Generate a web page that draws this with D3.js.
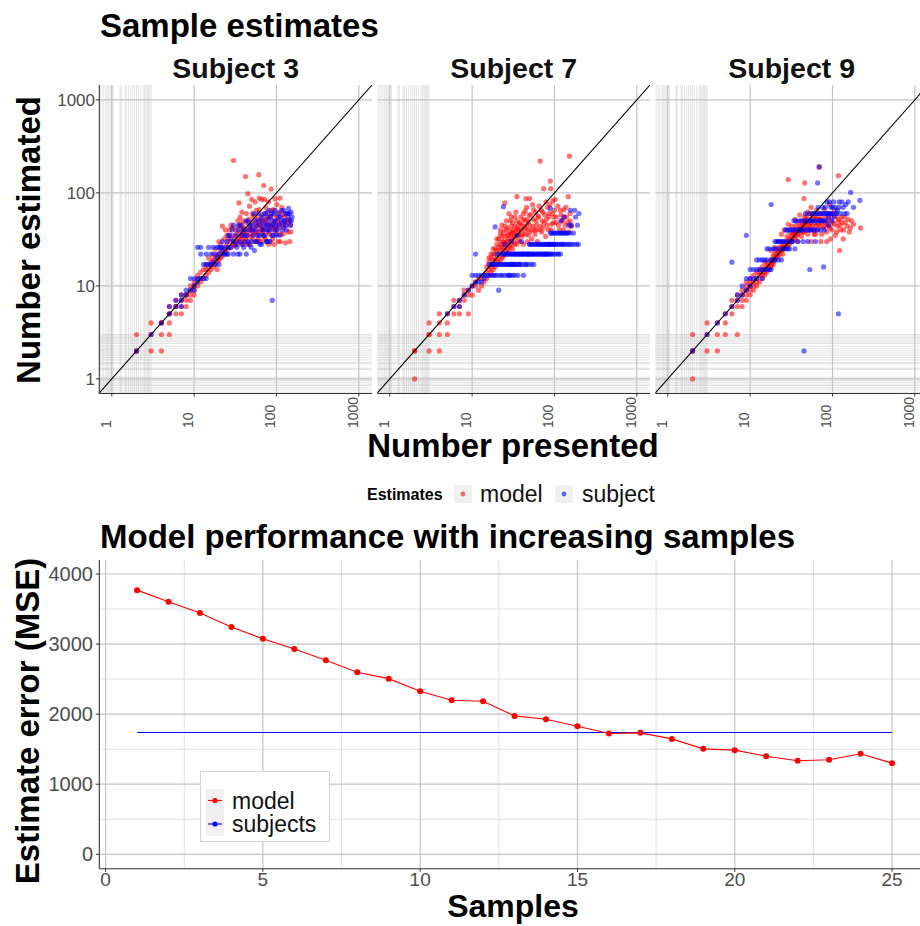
<!DOCTYPE html>
<html><head><meta charset="utf-8">
<script src="https://cdn.jsdelivr.net/npm/d3@7/dist/d3.min.js"></script>
<style>body{margin:0;background:#fff}svg{display:block;font-family:"Liberation Sans",Arial,sans-serif}</style>
</head><body><svg id="c" width="920" height="926"></svg>
<script>
// ---------------- data ----------------
const subjects = ["Subject 3", "Subject 7", "Subject 9"];
const seriesNames = ["model", "subject"];
const logTicks = [1, 10, 100, 1000];
const minorVals = [0.72,0.76,0.8,0.85,0.88,0.92,0.96,1.0,1.04,1.26,1.3,1.45,1.5,1.6,1.7,1.8,1.9,2.0,2.1,2.25,2.4,2.5,2.6,2.7,2.8,2.9,3.0];

const s3Model = [[2,2],[2,2],[2,3],[3,2],[3,3],[3,4],[4,2],[4,3],[4,4],[4,4],[5,3],[5,4],[5,5],[5,5],[5,6],[6,5],[6,6],[6,6],[6,7],[7,5],[7,6],[7,7],[7,8],[8,6],[8,7],[8,8],[8,8],[9,7],[9,8],[9,9],[9,10],[10,8],[10,9],[10,10],[10,11],[11,10],[11,12],[11,13],[12,11],[12,12],[12,14],[13,12],[13,15],[14,13],[14,15],[14,17],[15,14],[15,16],[16,15],[16,17],[16,18],[17,16],[17,19],[18,17],[18,20],[19,18],[19,21],[20,19],[20,22],[21,20],[21,24],[22,21],[22,44],[23,25],[24,23],[24,40],[25,28],[26,25],[26,32],[27,30],[28,26],[28,45],[29,35],[30,28],[30,223],[31,33],[32,30],[32,40],[33,36],[34,28],[34,50],[35,32],[35,78],[36,38],[37,30],[37,45],[38,34],[38,62],[39,28],[40,42],[40,36],[41,30],[42,150],[42,48],[43,34],[44,40],[45,98],[45,30],[46,52],[47,36],[48,44],[48,28],[50,40],[50,85],[51,32],[52,55],[53,42],[54,36],[55,30],[56,48],[57,65],[58,38],[60,45],[60,33],[61,157],[62,88],[63,50],[64,40],[65,30],[66,58],[67,42],[68,36],[70,120],[70,48],[72,85],[73,32],[75,52],[76,40],[78,62],[80,28],[80,46],[82,36],[84,55],[86,110],[88,42],[90,32],[92,66],[94,48],[96,86],[100,40],[102,54],[105,30],[108,46],[110,88],[112,36],[118,58],[122,42],[128,29],[132,50],[140,48],[145,30],[150,38],
[25,35],[27,40],[29,42],[31,27],[33,30],[34,44],[36,33],[36,55],[38,42],[39,50],[41,38],[42,32],[43,60],[44,28],[46,40],[47,72],[49,34],[50,48],[51,60],[53,38],[55,56],[55,80],[57,44],[58,30],[59,52],[61,38],[62,66],[63,30],[65,45],[66,85],[68,55],[69,40],[71,34],[72,50],[74,70],[76,30],[77,45],[79,38],[80,80],[82,56],[84,30],[85,44],[87,65],[89,50],[91,40],[93,28],[95,58],[97,44],[99,36],[101,75],[104,50],[106,42],[109,62],[111,30],[114,48],[116,70],[120,36],[124,55],[128,45],[134,60],[138,38],[143,52],[148,45],[20,30],[18,25],[23,32],[21,28],[19,15],[17,22],[15,20]];
const s3Subject = [[2,2],[3,3],[4,4],[5,5],[5,6],[6,6],[6,7],[7,6],[7,7],[7,8],[8,8],[8,9],[9,9],[9,12],[10,9],[10,10],[10,12],[11,11],[11,12],[11,26],[12,12],[12,22],[12,26],[13,12],[13,17],[14,12],[14,17],[14,22],[15,17],[15,26],[16,17],[16,22],[17,18],[17,26],[18,17],[18,22],[19,20],[19,26],[20,22],[20,17],[21,26],[22,24],[22,30],[23,22],[24,26],[25,30],[26,22],[27,35],[28,26],[29,40],[30,22],[30,30],[32,35],[33,26],[34,40],[35,30],[36,22],[37,45],[38,35],[40,26],[40,30],[42,40],[43,22],[44,35],[45,50],[46,28],[48,40],[50,30],[50,45],[52,35],[54,24],[55,50],[56,40],[58,30],[60,60],[62,35],[64,45],[66,28],[68,50],[70,40],[72,35],[74,60],[76,45],[78,30],[80,50],[82,40],[85,55],[88,35],[89,7],[90,45],[92,60],[95,40],[98,50],[100,35],[105,60],[108,45],[112,55],[118,40],[122,65],[126,50],[130,45],[136,60],[140,68],[146,50],[150,62],[155,55],
[26,35],[28,32],[30,45],[32,28],[34,22],[35,45],[38,28],[39,40],[41,35],[43,50],[45,30],[47,45],[49,26],[51,40],[53,60],[56,30],[57,45],[59,35],[61,50],[63,28],[65,55],[67,40],[69,35],[71,60],[73,45],[75,30],[77,55],[79,40],[81,65],[83,30],[86,45],[87,60],[91,35],[93,50],[96,65],[99,45],[102,40],[106,55],[110,35],[114,50],[116,65],[120,45],[124,50],[128,60],[132,40],[138,55],[144,60],[148,45],[152,50],[20,26],[22,26],[24,22],[25,22],[26,26]];
const s7Model = [[2,1],[2,2],[2,2],[3,2],[4,2],[3,3],[3,3],[4,3],[5,3],[3,4],[4,4],[5,4],[4,5],[5,5],[6,5],[7,5],[9,5],[6,6],[6,7],[7,6],[7,7],[8,7],[8,8],[8,9],[9,8],[9,9],[10,8],[10,10],[11,10],[11,11],[12,9],[12,12],[13,10],[13,12],[14,11],[14,13],[15,12],[15,14],[15,16],[16,13],[16,15],[16,18],[17,14],[17,16],[17,20],[18,15],[18,17],[18,22],[19,16],[19,19],[19,25],[20,17],[20,20],[20,28],[21,18],[21,22],[21,32],[22,19],[22,24],[22,36],[23,20],[23,26],[23,45],[24,21],[24,28],[24,30],[25,22],[25,34],[25,78],[26,24],[26,40],[27,25],[27,30],[28,23],[28,27],[28,36],[29,26],[29,50],[30,28],[30,32],[30,44],[31,25],[32,30],[32,38],[33,34],[33,55],[35,28],[35,91],[35,42],[36,31],[37,36],[38,48],[38,30],[40,34],[40,40],[42,28],[42,52],[44,36],[44,64],[45,87],[46,42],[47,30],[48,48],[50,87],[50,38],[52,58],[53,32],[55,44],[56,66],[58,36],[60,50],[60,40],[62,30],[64,56],[65,72],[67,220],[68,44],[70,38],[72,62],[74,111],[75,48],[78,34],[80,52],[82,70],[84,40],[86,60],[89,134],[90,111],[92,46],[95,82],[98,55],[100,65],[105,48],[110,72],[115,40],[120,58],[125,50],[130,66],[135,45],[140,55],[147,91],[150,38],[152,248],[155,50],[160,44],
[16,20],[17,22],[18,19],[18,25],[19,22],[20,24],[20,32],[21,26],[22,28],[22,40],[23,30],[23,34],[24,25],[24,38],[25,28],[25,44],[26,30],[26,50],[27,35],[27,42],[28,32],[28,60],[29,38],[29,30],[30,36],[30,55],[31,40],[31,48],[32,34],[33,44],[33,28],[34,38],[34,62],[35,50],[36,40],[36,35],[37,46],[38,40],[39,55],[40,45],[41,36],[42,60],[43,44],[44,50],[45,40],[46,70],[47,52],[48,35],[49,58],[50,45],[52,40],[54,75],[55,52],[57,40],[59,62],[61,45],[63,55],[66,40],[69,65],[71,50],[73,42],[76,58],[79,80],[81,45],[85,55],[88,75],[91,40],[94,60],[97,48],[102,85],[106,55],[112,45],[118,65],[122,50],[128,40],[132,55],[138,70],[145,48],[155,60],[158,44]];
const s7Subject = [[5,5],[6,6],[7,6],[7,7],[8,8],[9,9],[10,10],[10,13],[11,11],[11,13],[11,22],[12,11],[12,13],[13,11],[13,13],[14,12],[14,13],[15,13],[16,13],[16,17],[17,17],[18,13],[18,17],[19,17],[19,43],[20,17],[20,22],[21,9],[21,17],[22,17],[22,22],[23,13],[24,17],[24,22],[24,71],[25,13],[25,22],[26,17],[27,22],[28,13],[28,17],[29,22],[30,17],[30,22],[31,13],[32,17],[33,22],[34,17],[35,22],[36,13],[37,17],[38,22],[40,17],[40,22],[42,13],[42,22],[44,17],[45,22],[48,17],[48,22],[50,22],[50,28],[52,17],[55,22],[55,28],[58,22],[60,28],[62,22],[65,28],[68,22],[70,28],[72,22],[75,28],[78,22],[80,28],[82,22],[85,28],[88,22],[89,37],[89,68],[90,28],[92,37],[95,22],[98,28],[100,37],[105,28],[108,22],[110,37],[115,28],[118,22],[120,37],[125,28],[130,37],[135,28],[140,37],[145,28],[150,45],[156,65],[160,28],[170,37],[176,65],[185,28],[190,45],[198,60],
[26,22],[28,22],[31,22],[32,22],[34,22],[36,22],[37,22],[39,22],[41,22],[43,22],[46,22],[47,22],[49,22],[52,22],[53,22],[56,22],[60,22],[64,22],[66,22],[70,22],[74,22],[76,22],[80,22],[85,22],[90,22],[100,22],[112,22],[50,28],[53,28],[58,28],[63,28],[67,28],[73,28],[77,28],[83,28],[87,28],[93,28],[96,28],[102,28],[110,28],[120,28],[130,28],[150,28],[170,28],[195,28],[17,13],[19,13],[20,13],[22,13],[27,13],[29,13],[33,13],[18,17],[23,17],[25,17],[27,17],[29,17],[31,17],[33,17],[36,17],[38,17],[45,17],[56,17],[97,37],[105,37],[115,37],[125,37],[135,37],[145,37],[155,37],[120,50],[130,55],[160,45],[180,55],[30,30],[35,35],[40,30],[25,28]];
const s9Model = [[2,1],[2,2],[2,2],[2,3],[3,2],[3,3],[3,4],[4,2],[4,3],[4,4],[5,3],[5,4],[5,5],[6,5],[6,6],[7,3],[6,7],[7,6],[7,7],[7,8],[8,6],[8,7],[8,8],[8,9],[9,7],[9,8],[9,9],[9,10],[9,11],[10,8],[10,9],[10,10],[10,11],[10,12],[11,9],[11,11],[11,13],[12,10],[12,12],[12,14],[13,11],[13,13],[13,15],[14,12],[14,14],[14,16],[15,13],[15,15],[15,18],[16,14],[16,17],[17,15],[17,18],[18,16],[18,19],[18,24],[19,17],[19,21],[20,19],[20,22],[20,26],[21,20],[21,24],[22,21],[22,30],[23,22],[23,26],[24,24],[24,36],[25,22],[25,28],[26,26],[26,40],[27,30],[28,26],[28,34],[29,139],[29,46],[30,28],[30,38],[31,32],[32,30],[32,44],[33,36],[34,40],[35,32],[35,52],[36,44],[37,36],[38,48],[38,30],[40,40],[40,58],[42,34],[42,50],[44,44],[45,87],[45,38],[46,128],[46,55],[48,40],[48,48],[50,62],[50,36],[52,46],[54,40],[55,70],[56,52],[58,44],[60,56],[60,36],[62,48],[64,65],[66,40],[68,52],[69,190],[70,44],[72,60],[74,36],[75,50],[78,42],[80,66],[82,48],[85,38],[88,56],[90,44],[92,75],[95,50],[98,40],[100,60],[105,46],[108,35],[110,56],[115,44],[118,153],[120,52],[122,24],[125,40],[130,48],[135,32],[140,55],[150,44],[160,38],[170,50],[219,42],
[11,10],[12,11],[13,14],[14,13],[15,14],[16,16],[17,16],[18,17],[19,18],[20,20],[21,22],[22,23],[23,24],[24,26],[25,25],[26,28],[27,26],[28,30],[29,28],[30,32],[31,30],[32,35],[33,32],[34,36],[35,38],[36,34],[37,40],[38,36],[39,42],[40,38],[41,44],[42,40],[43,46],[44,38],[45,50],[46,44],[47,48],[48,56],[49,42],[50,52],[52,60],[53,44],[55,48],[57,58],[59,40],[61,52],[63,44],[65,56],[67,46],[70,52],[73,48],[76,56],[79,44],[83,52],[86,46],[89,60],[93,42],[97,55],[102,48],[107,65],[112,38],[117,50],[124,45],[129,55],[136,40],[142,48],[155,52],[165,42],[180,46],[55,30],[62,36],[72,30],[85,30],[95,32]];
const s9Subject = [[2,2],[3,3],[4,4],[5,5],[6,6],[6,18],[7,7],[7,8],[8,8],[8,10],[9,9],[9,12],[9,35],[10,10],[10,12],[10,15],[11,12],[11,15],[12,12],[12,15],[12,19],[13,15],[13,19],[14,12],[14,15],[14,19],[15,15],[15,19],[16,19],[16,25],[17,15],[17,25],[18,19],[18,75],[19,25],[20,19],[20,25],[21,30],[22,25],[23,30],[24,19],[25,30],[26,25],[27,40],[28,30],[29,25],[30,40],[32,30],[33,40],[35,25],[36,50],[38,30],[40,40],[42,50],[44,30],[45,2],[45,40],[47,60],[48,50],[50,30],[52,40],[53,15],[55,50],[57,60],[58,40],[60,50],[62,30],[64,60],[66,128],[66,40],[68,50],[69,190],[70,60],[72,40],[75,50],[78,16],[78,60],[80,40],[82,70],[85,50],[88,60],[90,45],[92,80],[95,60],[98,50],[100,70],[105,55],[110,60],[115,65],[118,5],[120,80],[125,60],[135,70],[145,75],[150,60],[166,101],[180,70],[215,83],
[20,30],[22,30],[24,30],[26,30],[28,40],[30,30],[31,40],[33,30],[34,50],[35,40],[37,40],[39,50],[41,40],[43,40],[46,50],[49,40],[51,50],[53,60],[54,40],[56,50],[59,60],[61,40],[63,50],[65,60],[67,70],[71,50],[73,60],[76,70],[79,50],[81,60],[84,60],[86,80],[89,55],[93,60],[96,70],[99,60],[103,80],[108,70],[112,60],[120,70],[130,80],[140,60],[155,80],[16,15],[18,15],[19,19],[22,19],[25,25],[27,25],[30,25]];

const samples = [1,2,3,4,5,6,7,8,9,10,11,12,13,14,15,16,17,18,19,20,21,22,23,24,25];
const modelMSE = [3770,3604,3443,3243,3077,2930,2768,2597,2507,2326,2198,2184,1975,1928,1828,1724,1733,1647,1505,1486,1400,1334,1349,1434,1301];
const subjectsSamples = [1, 25];
const subjectsMSE = [1738, 1738];
const xTicks2 = [0, 5, 10, 15, 20, 25];
const yTicks2 = [0, 1000, 2000, 3000, 4000];
const xMinor2 = [2.5, 7.5, 12.5, 17.5, 22.5];
const yMinor2 = [500, 1500, 2500, 3500];

// ---------------- drawing ----------------
const svg = d3.select("#c");
const RED = "#FF0000", BLUE = "#0000FF", TXT = "#4d4d4d";
const facetData = [[s3Model, s3Subject], [s7Model, s7Subject], [s9Model, s9Subject]];
const panelsX = [[99.3, 372], [377.3, 650], [655.3, 928]];
const pTop = 85, pBot = 393;
const logDom = [0.705, 1445];

svg.append("text").attr("x", 100).attr("y", 37).attr("font-size", 33).attr("font-weight", "bold").text("Sample estimates");

facetData.forEach((fd, i) => {
  const x = d3.scaleLog().domain(logDom).range(panelsX[i]);
  const y = d3.scaleLog().domain(logDom).range([pBot, pTop]);
  const g = svg.append("g");
  const cid = "clip" + i;
  svg.append("clipPath").attr("id", cid).append("rect")
    .attr("x", panelsX[i][0]).attr("y", pTop).attr("width", panelsX[i][1] - panelsX[i][0]).attr("height", pBot - pTop);
  const pg = g.append("g").attr("clip-path", `url(#${cid})`);
  pg.selectAll(".mv").data(minorVals).join("line")
    .attr("x1", d => x(d)).attr("x2", d => x(d)).attr("y1", pTop).attr("y2", pBot)
    .attr("stroke", "#b8b8b8").attr("stroke-opacity", 0.5).attr("stroke-width", 0.8);
  pg.selectAll(".mh").data(minorVals).join("line")
    .attr("y1", d => y(d)).attr("y2", d => y(d)).attr("x1", panelsX[i][0]).attr("x2", panelsX[i][1])
    .attr("stroke", "#b8b8b8").attr("stroke-opacity", 0.5).attr("stroke-width", 0.8);
  pg.selectAll(".Mv").data(logTicks).join("line")
    .attr("x1", d => x(d)).attr("x2", d => x(d)).attr("y1", pTop).attr("y2", pBot)
    .attr("stroke", "#c4c4c4").attr("stroke-width", 1.2);
  pg.selectAll(".Mh").data(logTicks).join("line")
    .attr("y1", d => y(d)).attr("y2", d => y(d)).attr("x1", panelsX[i][0]).attr("x2", panelsX[i][1])
    .attr("stroke", "#c4c4c4").attr("stroke-width", 1.2);
  fd.forEach((pts, si) => {
    pg.selectAll(".p" + si).data(pts).join("circle")
      .attr("cx", d => x(d[0])).attr("cy", d => y(d[1])).attr("r", 2.6)
      .attr("fill", si === 0 ? RED : BLUE).attr("fill-opacity", 0.55);
  });
  pg.append("line").attr("x1", x(logDom[0])).attr("y1", y(logDom[0])).attr("x2", x(logDom[1])).attr("y2", y(logDom[1]))
    .attr("stroke", "#000").attr("stroke-width", 1.1);
  g.append("line").attr("x1", panelsX[i][0]).attr("x2", panelsX[i][1]).attr("y1", pBot + 0.5).attr("y2", pBot + 0.5)
    .attr("stroke", "#333").attr("stroke-width", 1.1);
  g.selectAll(".bt").data(logTicks).join("line")
    .attr("x1", d => x(d)).attr("x2", d => x(d)).attr("y1", pBot).attr("y2", pBot + 3.5).attr("stroke", "#333");
  g.selectAll(".bl").data(logTicks).join("text")
    .attr("transform", d => `translate(${x(d) - 1},428) rotate(-90)`)
    .attr("font-size", 14).attr("fill", TXT).text(d => d);
  svg.append("text").attr("x", (panelsX[i][0] + panelsX[i][1]) / 2).attr("y", 78).attr("text-anchor", "middle")
    .attr("font-size", 28.5).attr("font-weight", "bold").attr("fill", "#111").text(subjects[i]);
  if (i === 0) {
    g.append("line").attr("x1", panelsX[0][0]).attr("x2", panelsX[0][0]).attr("y1", pTop).attr("y2", pBot + 1)
      .attr("stroke", "#333").attr("stroke-width", 1.1);
    g.selectAll(".lt").data(logTicks).join("line")
      .attr("x1", panelsX[0][0] - 3.5).attr("x2", panelsX[0][0]).attr("y1", d => y(d)).attr("y2", d => y(d)).attr("stroke", "#333");
    g.selectAll(".ll").data(logTicks).join("text")
      .attr("x", 95).attr("y", d => y(d)).attr("dy", "0.35em").attr("text-anchor", "end")
      .attr("font-size", 17).attr("fill", TXT).text(d => d);
  }
});

svg.append("text").attr("transform", "translate(40,240) rotate(-90)").attr("text-anchor", "middle")
  .attr("font-size", 33).attr("font-weight", "bold").text("Number estimated");
svg.append("text").attr("x", 513).attr("y", 457).attr("text-anchor", "middle")
  .attr("font-size", 33).attr("font-weight", "bold").text("Number presented");

svg.append("text").attr("x", 367).attr("y", 500).attr("font-size", 16).attr("font-weight", "bold").text("Estimates");
const legX = [454, 555], legTX = [480, 582];
seriesNames.forEach((s, k) => {
  svg.append("rect").attr("x", legX[k]).attr("y", 485).attr("width", 18).attr("height", 18).attr("fill", "#f0f0f0");
  svg.append("circle").attr("cx", legX[k] + 9).attr("cy", 494).attr("r", 2.4).attr("fill", k === 0 ? RED : BLUE).attr("fill-opacity", 0.6);
  svg.append("text").attr("x", legTX[k]).attr("y", 502).attr("font-size", 23).attr("fill", "#111").text(s);
});

// ---------------- bottom chart ----------------
svg.append("text").attr("x", 100).attr("y", 548).attr("font-size", 33).attr("font-weight", "bold").text("Model performance with increasing samples");
const bL = 99.3, bR = 929.8, bT = 560, bB = 868.3;
const x2 = d3.scaleLinear().domain([-0.2, 26.2]).range([bL, bR]);
const y2 = d3.scaleLinear().domain([-200, 4200]).range([bB, bT]);
const b = svg.append("g");
b.selectAll(".xm").data(xMinor2).join("line").attr("x1", d => x2(d)).attr("x2", d => x2(d)).attr("y1", bT).attr("y2", bB).attr("stroke", "#e0e0e0").attr("stroke-width", 1);
b.selectAll(".ym").data(yMinor2).join("line").attr("y1", d => y2(d)).attr("y2", d => y2(d)).attr("x1", bL).attr("x2", bR).attr("stroke", "#e0e0e0").attr("stroke-width", 1);
b.selectAll(".xM").data(xTicks2).join("line").attr("x1", d => x2(d)).attr("x2", d => x2(d)).attr("y1", bT).attr("y2", bB).attr("stroke", "#c4c4c4").attr("stroke-width", 1.2);
b.selectAll(".yM").data(yTicks2).join("line").attr("y1", d => y2(d)).attr("y2", d => y2(d)).attr("x1", bL).attr("x2", bR).attr("stroke", "#c4c4c4").attr("stroke-width", 1.2);
b.append("line").attr("x1", bL).attr("x2", bL).attr("y1", bT).attr("y2", bB + 0.5).attr("stroke", "#333").attr("stroke-width", 1.1);
b.append("line").attr("x1", bL).attr("x2", bR).attr("y1", bB + 0.5).attr("y2", bB + 0.5).attr("stroke", "#333").attr("stroke-width", 1.1);
b.selectAll(".xt").data(xTicks2).join("line").attr("x1", d => x2(d)).attr("x2", d => x2(d)).attr("y1", bB).attr("y2", bB + 3.5).attr("stroke", "#333");
b.selectAll(".yt").data(yTicks2).join("line").attr("y1", d => y2(d)).attr("y2", d => y2(d)).attr("x1", bL - 3.5).attr("x2", bL).attr("stroke", "#333");
b.selectAll(".xl").data(xTicks2).join("text").attr("x", d => x2(d)).attr("y", 886).attr("text-anchor", "middle").attr("font-size", 19).attr("fill", TXT).text(d => d);
b.selectAll(".yl").data(yTicks2).join("text").attr("x", 93).attr("y", d => y2(d)).attr("dy", "0.36em").attr("text-anchor", "end").attr("font-size", 20).attr("fill", TXT).text(d => d);
const line = d3.line().x(d => x2(d[0])).y(d => y2(d[1]));
b.append("path").datum(subjectsSamples.map((s, k) => [s, subjectsMSE[k]])).attr("d", line).attr("fill", "none").attr("stroke", BLUE).attr("stroke-width", 1.1);
const mData = samples.map((s, k) => [s, modelMSE[k]]);
b.append("path").datum(mData).attr("d", line).attr("fill", "none").attr("stroke", RED).attr("stroke-width", 1.1);
b.selectAll(".mp").data(mData).join("circle").attr("cx", d => x2(d[0])).attr("cy", d => y2(d[1])).attr("r", 3).attr("fill", RED);
b.append("rect").attr("x", 200.5).attr("y", 771.5).attr("width", 129).attr("height", 70).attr("fill", "#fff").attr("stroke", "#d4d4d4").attr("stroke-width", 1);
b.append("rect").attr("x", 206).attr("y", 789).attr("width", 18).attr("height", 47).attr("fill", "#f0f0f0");
const lyy = [800.5, 824];
["model", "subjects"].forEach((s, k) => {
  const c = k === 0 ? RED : BLUE;
  b.append("line").attr("x1", 208).attr("x2", 222).attr("y1", lyy[k]).attr("y2", lyy[k]).attr("stroke", c).attr("stroke-width", 1.1);
  b.append("circle").attr("cx", 215).attr("cy", lyy[k]).attr("r", 2.6).attr("fill", c);
  b.append("text").attr("x", 232).attr("y", lyy[k]).attr("dy", "0.36em").attr("font-size", 23).attr("fill", "#111").text(s);
});
svg.append("text").attr("transform", "translate(39,721) rotate(-90)").attr("text-anchor", "middle")
  .attr("font-size", 33).attr("font-weight", "bold").text("Estimate error (MSE)");
svg.append("text").attr("x", 513).attr("y", 917).attr("text-anchor", "middle")
  .attr("font-size", 32).attr("font-weight", "bold").text("Samples");
</script></body></html>
